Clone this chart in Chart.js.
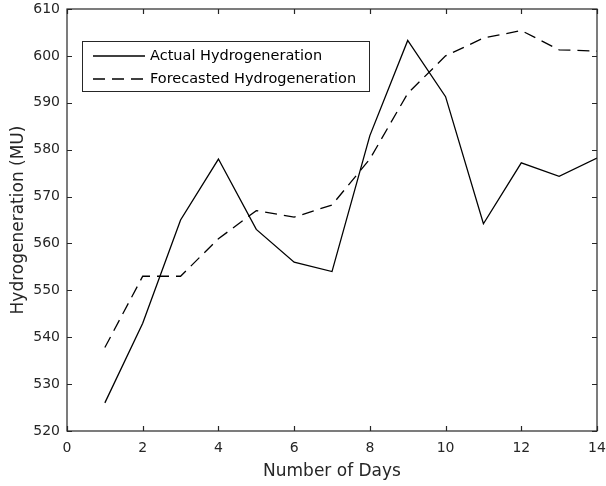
<!DOCTYPE html>
<html>
<head>
<meta charset="utf-8">
<script src="https://cdn.jsdelivr.net/npm/chart.js@4.4.1/dist/chart.umd.min.js"></script>
<style>
  html, body { margin: 0; padding: 0; background: #fff; }
  #wrap { width: 606px; height: 486px; }
</style>
</head>
<body>
<div id="wrap"><canvas id="hydro" width="606" height="486"></canvas></div>
<script>
// daily hydrogeneration, MU
var days = [1, 2, 3, 4, 5, 6, 7, 8, 9, 10, 11, 12, 13, 14];
var actual = [526, 543, 565, 578, 563, 556, 554, 583, 603.3, 591.3, 564.2, 577.2, 574.3, 578.2];
var forecast = [537.8, 553, 553, 561, 567, 565.6, 568.2, 578, 592, 600, 603.8, 605.4, 601.3, 601];
var xTicks = [0, 2, 4, 6, 8, 10, 12, 14];
var yTicks = [520, 530, 540, 550, 560, 570, 580, 590, 600, 610];
var seriesNames = ['Actual Hydrogeneration', 'Forecasted Hydrogeneration'];

var axisColor = '#262626';
var font = 'DejaVu Sans, Verdana, sans-serif';

function toPoints(ys) {
  return days.map(function (d, i) { return { x: d, y: ys[i] }; });
}

// box around the axes with inward ticks on all four sides, plus the legend
var matlabBox = {
  id: 'matlabBox',
  afterDatasetsDraw: function (chart) {
    var ctx = chart.ctx, a = chart.chartArea;
    var xs = chart.scales.x, ys = chart.scales.y;
    var tl = 5;
    ctx.save();
    ctx.strokeStyle = axisColor;
    ctx.lineWidth = 1.2;
    ctx.strokeRect(a.left, a.top, a.right - a.left, a.bottom - a.top);
    ctx.beginPath();
    xTicks.forEach(function (v) {
      var px = Math.round(xs.getPixelForValue(v)) + 0.5;
      ctx.moveTo(px, a.bottom); ctx.lineTo(px, a.bottom - tl);
      ctx.moveTo(px, a.top); ctx.lineTo(px, a.top + tl);
    });
    yTicks.forEach(function (v) {
      var py = Math.round(ys.getPixelForValue(v)) + 0.5;
      ctx.moveTo(a.left, py); ctx.lineTo(a.left + tl, py);
      ctx.moveTo(a.right, py); ctx.lineTo(a.right - tl, py);
    });
    ctx.stroke();

    // legend
    var lx = 82, ly = 41, lw = 287, lh = 50;
    ctx.fillStyle = '#fff';
    ctx.fillRect(lx, ly, lw, lh);
    ctx.strokeStyle = axisColor;
    ctx.lineWidth = 1;
    ctx.strokeRect(lx + 0.5, ly + 0.5, lw, lh);
    ctx.font = '14.5px ' + font;
    ctx.textBaseline = 'middle';
    ctx.fillStyle = '#000';
    var rows = [56, 79];
    chart.data.datasets.forEach(function (ds, i) {
      ctx.beginPath();
      ctx.strokeStyle = '#000';
      ctx.lineWidth = 1.3;
      ctx.setLineDash(ds.borderDash || []);
      ctx.moveTo(93, rows[i]); ctx.lineTo(145, rows[i]);
      ctx.stroke();
      ctx.setLineDash([]);
      ctx.fillText(ds.label, 150, rows[i]);
    });
    ctx.restore();
  }
};

new Chart(document.getElementById('hydro').getContext('2d'), {
  type: 'line',
  data: {
    datasets: [{
      label: seriesNames[0],
      data: toPoints(actual),
      borderColor: '#000',
      borderWidth: 1.3,
      pointRadius: 0,
      tension: 0,
      fill: false
    }, {
      label: seriesNames[1],
      data: toPoints(forecast),
      borderColor: '#000',
      borderWidth: 1.3,
      borderDash: [12, 7],
      pointRadius: 0,
      tension: 0,
      fill: false
    }]
  },
  options: {
    responsive: false,
    animation: false,
    layout: { padding: { left: 0, top: 9, right: 9, bottom: 0 } },
    plugins: { legend: { display: false }, tooltip: { enabled: false } },
    scales: {
      x: {
        type: 'linear', min: 0, max: 14,
        afterBuildTicks: function (s) { s.ticks = xTicks.map(function (v) { return { value: v }; }); },
        // fixed height, and no extra room for the end labels
        afterFit: function (s) { s.height = 55; s.paddingLeft = 0; s.paddingRight = 0; },
        grid: { display: false, drawTicks: false },
        border: { display: false },
        ticks: { color: axisColor, font: { family: font, size: 14 }, padding: 9, maxRotation: 0 },
        title: { display: true, text: 'Number of Days', color: axisColor, font: { family: font, size: 17 }, padding: { top: 2 } }
      },
      y: {
        type: 'linear', min: 520, max: 610,
        afterBuildTicks: function (s) { s.ticks = yTicks.map(function (v) { return { value: v }; }); },
        afterFit: function (s) { s.width = 67; s.paddingTop = 0; s.paddingBottom = 0; },
        grid: { display: false, drawTicks: false },
        border: { display: false },
        ticks: { color: axisColor, font: { family: font, size: 14 }, padding: 7 },
        title: { display: true, text: 'Hydrogeneration (MU)', color: axisColor, font: { family: font, size: 17 }, padding: { top: 8, bottom: 0 } }
      }
    }
  },
  plugins: [matlabBox]
});
</script>
</body>
</html>
